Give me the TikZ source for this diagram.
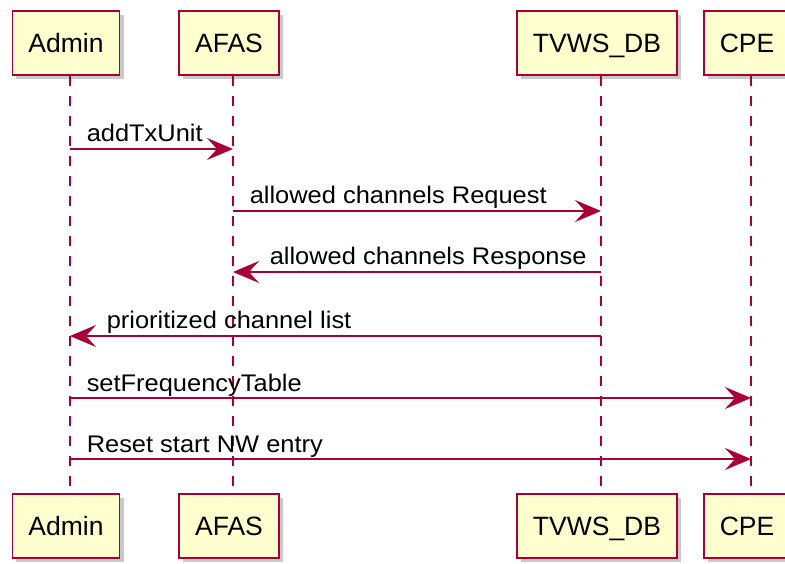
\documentclass[tikz,border=0pt]{standalone}
\usepackage{fontspec}
\setmainfont{Liberation Sans}
\newfontfamily\messagefont[FakeStretch=1.06]{Liberation Sans}
\usetikzlibrary{arrows.meta,shadows}
\definecolor{bordeau}{HTML}{A80036}
\definecolor{creme}{HTML}{FEFECE}

\begin{document}
\begin{tikzpicture}[x=1pt, y=-1pt]
	\tikzset{boite/.style={draw=bordeau, fill=creme, line width=1.5pt, minimum height=64pt, inner xsep=16pt,
			text height=19pt, text depth=0pt, font=\fontsize{26.5}{30}\selectfont,
			drop shadow={shadow xshift=4pt, shadow yshift=-4pt, opacity=0.3, fill=black!70}},
		vie/.style={draw=bordeau, line width=1.8pt, dash pattern=on 10pt off 10pt},
		fleche/.style={color=bordeau, line width=1.5pt, -{Stealth[length=26pt, width=22pt, inset=10pt]}},
		etiquette/.style={text=black, font=\messagefont\fontsize{24}{28}\selectfont, anchor=base west, inner sep=0pt}};

	\useasboundingbox (0,0) rectangle (785,564);

	\foreach \nom/\x/\texte in {admin/70/Admin, afas/233/AFAS, db/601/TVWS\_DB, cpe/751/CPE}{
		\node[boite] (\nom-haut) at (\x-4, 43) {\texte};
		\node[boite] (\nom-bas) at (\x-4, 526) {\texte};
		\coordinate (\nom-vie) at ([xshift=4pt]\nom-haut.south);
		\draw[vie] (\nom-vie) -- ([xshift=4pt]\nom-bas.north);
	}

	% messages
	\foreach \de/\vers/\y/\p/\dx/\texte in {admin/afas/149/0/16/addTxUnit,
		afas/db/211/0/16/allowed channels Request, db/afas/272/1/36/allowed channels Response,
		db/admin/336/1/36/prioritized channel list, admin/cpe/398/0/16/setFrequencyTable,
		admin/cpe/459/0/16/Reset start NW entry}{
			\coordinate (a-\y) at (\de-vie |- 0,\y);
			\coordinate (b-\y) at (\vers-vie |- 0,\y);
			\draw[fleche] (a-\y) -- node[etiquette, pos=\p, xshift=\dx pt, yshift=7pt] {\texte} (b-\y);
	}

\end{tikzpicture}
\end{document}
